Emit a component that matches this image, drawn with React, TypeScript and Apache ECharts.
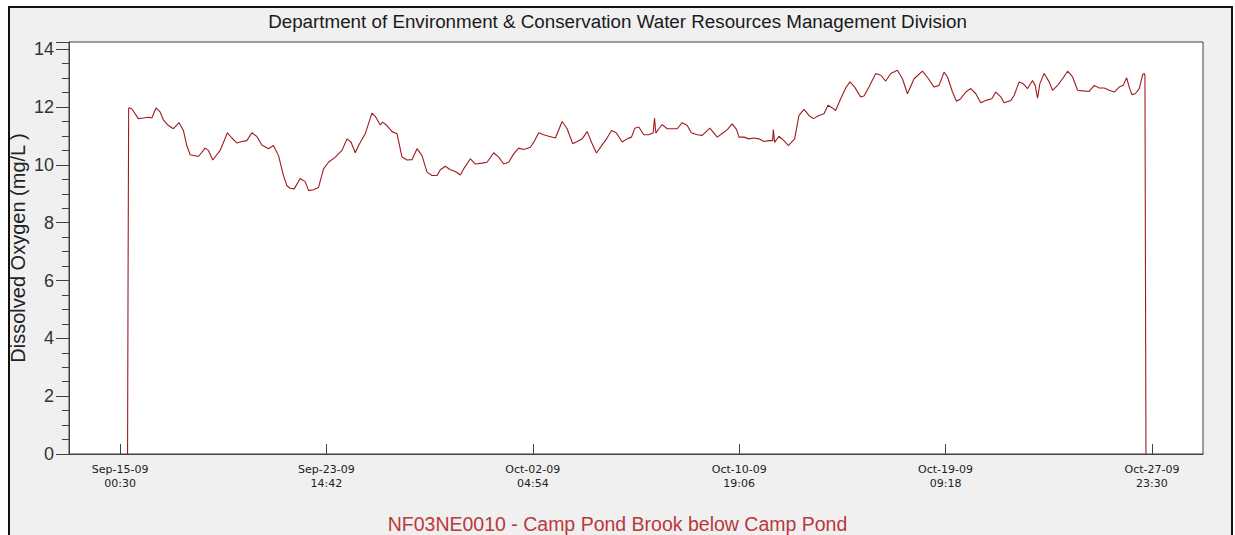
import React, { useEffect, useRef } from "react";
import * as echarts from "echarts";

// x values: hours elapsed since Sep-15-09 00:30
const TICK_HOURS = [0, 206.2, 412.4, 618.6, 824.8, 1031];
const TICK_LABELS = [
  "Sep-15-09\n00:30",
  "Sep-23-09\n14:42",
  "Oct-02-09\n04:54",
  "Oct-10-09\n19:06",
  "Oct-19-09\n09:18",
  "Oct-27-09\n23:30",
];
const X_MIN_HOURS = -51;
const X_MAX_HOURS = 1082;

const HOURS = [
  7.5, 8.0, 8.6, 9.3, 11.7, 18.3, 23, 29, 31.7, 36, 40, 43.3, 48.3, 53.3, 59, 63.3,
  66.7, 70, 78.3, 85, 88.3, 92.7, 100, 107.3, 111.7, 116.7, 121.7, 126.7, 131.7,
  136.7, 141.7, 148.3, 153.3, 158.3, 163.3, 166.7, 170, 174, 180, 185, 188.3,
  193.3, 198.3, 203.3, 208.3, 215, 221.7, 226.7, 230.7, 235, 238.3, 245, 251.7,
  255, 260, 262.3, 266.7, 271.7, 276.7, 281.7, 286.7, 291.7, 296.7, 301.7, 306.7,
  311.7, 316.7, 320, 325, 330, 335, 340, 343.3, 350, 355, 361.7, 366.7, 373.3,
  378.3, 383.3, 388.3, 393.3, 398.3, 403.3, 410, 414.3, 418.3, 423.3, 428.3, 435,
  441.7, 446.7, 452.3, 456.7, 461.7, 466.7, 471.7, 476, 481.7, 485.7, 491, 495.7,
  501.7, 506.7, 511, 514.3, 518.3, 523.3, 528.3, 532.7, 534, 535.3, 538.3, 541.7,
  546.7, 551.7, 556.7, 561.7, 566.7, 570.7, 576.7, 581.7, 589.3, 596.7, 602.7,
  606.7, 611.7, 616, 618.3, 623.3, 628.3, 633.3, 638.3, 643.3, 648.3, 652, 652.7,
  654, 658.3, 663.3, 667.7, 674, 678.3, 683.3, 688.3, 692.7, 698.3, 703.3, 707.3,
  711.7, 715, 720, 725, 729.3, 734, 740, 743.3, 748.3, 755, 760, 765, 770, 776.7,
  781.7, 786.7, 793.3, 801.7, 807.7, 813.3, 818.3, 823.3, 826.7, 831.7, 835.7, 840,
  845, 850, 855, 860, 865, 871, 875, 880, 883.3, 890, 893.3, 898.3, 902.3, 906.7,
  911.7, 914.3, 916.7, 919, 923.3, 928.3, 931.7, 936.7, 941.7, 946.7, 951.7, 956.7,
  961.7, 968.3, 973.3, 978.3, 983.3, 988.3, 993.3, 998.3, 1002.3, 1005.7, 1008.3,
  1011, 1014.3, 1018.3, 1021.7, 1023.3, 1024, 1024.5, 1025,
];

const DISSOLVED_OXYGEN = [
  0, 6.0, 11.95, 11.98, 11.94, 11.6, 11.62, 11.65, 11.62, 11.97, 11.83, 11.56, 11.36,
  11.25, 11.46, 11.19, 10.67, 10.35, 10.29, 10.58, 10.5, 10.17, 10.5, 11.11, 10.93,
  10.76, 10.81, 10.84, 11.11, 10.98, 10.69, 10.56, 10.67, 10.32, 9.63, 9.28, 9.19,
  9.17, 9.53, 9.42, 9.11, 9.14, 9.22, 9.86, 10.09, 10.27, 10.5, 10.9, 10.79, 10.42,
  10.67, 11.08, 11.79, 11.68, 11.38, 11.48, 11.36, 11.15, 11.08, 10.27, 10.17, 10.18,
  10.56, 10.32, 9.75, 9.63, 9.63, 9.83, 9.95, 9.83, 9.77, 9.65, 9.86, 10.21, 10.03,
  10.06, 10.09, 10.42, 10.27, 10.03, 10.09, 10.38, 10.58, 10.53, 10.61, 10.84, 11.11,
  11.04, 10.99, 10.93, 11.5, 11.25, 10.73, 10.81, 10.9, 11.15, 10.73, 10.41, 10.69,
  10.88, 11.19, 11.11, 10.79, 10.9, 10.96, 11.27, 11.31, 11.04, 11.04, 11.11, 11.62,
  11.1, 11.25, 11.39, 11.25, 11.25, 11.25, 11.46, 11.36, 11.11, 11.04, 11.02, 11.27,
  10.96, 11.11, 11.22, 11.42, 11.22, 10.96, 10.96, 10.9, 10.93, 10.9, 10.81, 10.84,
  10.84, 11.22, 10.78, 10.99, 10.84, 10.67, 10.9, 11.71, 11.92, 11.71, 11.6, 11.71,
  11.77, 12.06, 11.97, 11.88, 12.29, 12.66, 12.87, 12.69, 12.35, 12.38, 12.69, 13.16,
  13.1, 12.9, 13.16, 13.27, 12.98, 12.46, 12.98, 13.24, 12.98, 12.69, 12.75, 13.21,
  13.04, 12.52, 12.2, 12.29, 12.52, 12.64, 12.46, 12.15, 12.23, 12.29, 12.52, 12.35,
  12.15, 12.23, 12.4, 12.87, 12.81, 12.64, 12.92, 12.75, 12.31, 12.81, 13.16, 12.87,
  12.58, 12.75, 12.98, 13.24, 13.04, 12.58, 12.56, 12.54, 12.75, 12.66, 12.66, 12.58,
  12.52, 12.69, 12.75, 13.01, 12.69, 12.43, 12.46, 12.64, 13.12, 13.16, 13.1, 6.55, 0,
];

const TITLE = "Department of Environment & Conservation Water Resources Management Division";
const SUBTITLE = "NF03NE0010 - Camp Pond Brook below Camp Pond";
const Y_NAME = "Dissolved Oxygen (mg/L )";

export default function App() {
  const ref = useRef<HTMLDivElement>(null);

  useEffect(() => {
    document.body.style.margin = "0";
    const chart = echarts.init(ref.current!, null, { renderer: "svg" });
    const data = HOURS.map((h, i) => [h, DISSOLVED_OXYGEN[i]]);
    const axisColor = "#404040";
    chart.setOption({
      animation: false,
      backgroundColor: "#ffffff",
      graphic: [
        {
          type: "rect",
          z: -10,
          silent: true,
          shape: { x: 9, y: 7, width: 1223, height: 540 },
          style: { fill: "#f0f0f0", stroke: "#111111", lineWidth: 2 },
        },
      ],
      title: [
        {
          text: TITLE,
          left: "center",
          top: 12,
          padding: 0,
          textStyle: {
            fontSize: 18.8,
            fontWeight: "normal",
            color: "#1a1a1a",
            fontFamily: "Liberation Sans, Arial, sans-serif",
          },
        },
        {
          text: SUBTITLE,
          left: "center",
          top: 514,
          padding: 0,
          textStyle: {
            fontSize: 19.5,
            fontWeight: "normal",
            color: "#b8393c",
            fontFamily: "Liberation Sans, Arial, sans-serif",
          },
        },
      ],
      grid: {
        left: 69,
        right: 32,
        top: 42,
        bottom: 81,
        containLabel: false,
        outerBoundsMode: "none",
        show: true,
        backgroundColor: "#ffffff",
        borderColor: axisColor,
        borderWidth: 1,
      },
      xAxis: {
        type: "value",
        min: X_MIN_HOURS,
        max: X_MAX_HOURS,
        splitLine: { show: false },
        axisLine: { show: true, onZero: false, lineStyle: { color: axisColor, width: 1 } },
        axisTick: {
          show: true,
          inside: true,
          length: 10,
          customValues: TICK_HOURS,
          lineStyle: { color: axisColor },
        },
        axisLabel: {
          customValues: TICK_HOURS,
          margin: 8,
          fontSize: 11,
          lineHeight: 14,
          color: "#222",
          fontFamily: "DejaVu Sans, sans-serif",
          formatter: (v: number) => {
            const i = TICK_HOURS.findIndex((t) => Math.abs(t - v) < 0.01);
            return i >= 0 ? TICK_LABELS[i] : "";
          },
        },
      },
      yAxis: {
        type: "value",
        min: 0,
        max: 14.25,
        interval: 2,
        name: Y_NAME,
        nameLocation: "middle",
        nameGap: 41,
        nameMoveOverlap: false,
        nameTextStyle: {
          fontSize: 20,
          color: "#222",
          fontFamily: "Liberation Sans, Arial, sans-serif",
        },
        splitLine: { show: false },
        axisLine: { show: true, onZero: false, lineStyle: { color: axisColor, width: 1 } },
        axisTick: { show: true, length: 13, lineStyle: { color: axisColor } },
        minorTick: { show: true, splitNumber: 4, length: 7, lineStyle: { color: axisColor } },
        minorSplitLine: { show: false },
        axisLabel: {
          margin: 15,
          fontSize: 18,
          color: "#333",
          fontFamily: "Liberation Sans, Arial, sans-serif",
          showMaxLabel: false,
        },
      },
      series: [
        {
          type: "line",
          data,
          symbol: "none",
          lineStyle: { color: "#9e1b1f", width: 1.1 },
          itemStyle: { color: "#9e1b1f" },
        },
      ],
    });
    return () => chart.dispose();
  }, []);

  return <div ref={ref} style={{ width: 1235, height: 535 }} />;
}
